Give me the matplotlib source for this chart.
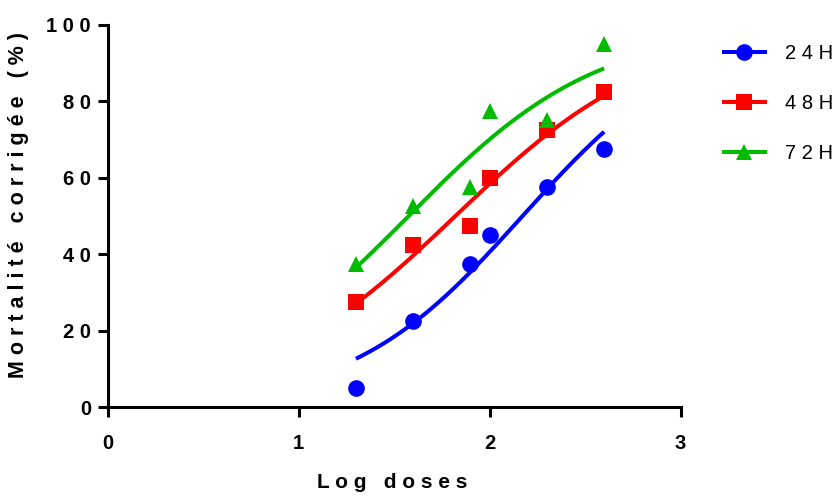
import numpy as np
import matplotlib
matplotlib.use('Agg')
import matplotlib.pyplot as plt

# Log doses and corrected mortality (%) for each exposure time
log_doses = [1.3, 1.6, 1.9, 2.0, 2.3, 2.6]
mort_24h = [5.0, 22.5, 37.5, 45.0, 57.5, 67.5]
mort_48h = [27.5, 42.5, 47.5, 60.0, 72.5, 82.5]
mort_72h = [37.5, 52.5, 57.5, 77.5, 75.0, 95.0]

series_labels = ['24H', '48H', '72H']
colors = ['#0000FF', '#FF0000', '#00BB00']
markers = ['o', 's', '^']
marker_sizes = [12, 11, 12]

x_ticks = [0, 1, 2, 3]
y_ticks = [0, 20, 40, 60, 80, 100]

FONT = ['Liberation Sans', 'DejaVu Sans']
plt.rcParams['font.family'] = FONT


def spaced(s):
    # wide letter spacing for labels
    return ' '.join(s)


def fit_logistic(x, y):
    # dose-response curve, bottom 0 / top 100, variable slope
    x = np.asarray(x, float)
    y = np.asarray(y, float)
    p = np.clip(y / 100, 0.01, 0.99)
    slope, icpt = np.polyfit(x, np.log10(p / (1 - p)), 1)
    h, c = slope, -icpt / slope
    for _ in range(100):
        e = 10 ** ((c - x) * h)
        f = 100 / (1 + e)
        df_de = -100 / (1 + e) ** 2
        J = np.column_stack([df_de * e * np.log(10) * h,
                             df_de * e * np.log(10) * (c - x)])
        step = np.linalg.lstsq(J, y - f, rcond=None)[0]
        c += step[0]
        h += step[1]
    return c, h


fig = plt.figure(figsize=(8.35, 4.96), dpi=100)
ax = fig.add_axes([0.129, 0.179, 0.686, 0.771])

xs = np.linspace(min(log_doses), max(log_doses), 200)
handles = []
for ys, lab, col, mk, ms in zip([mort_24h, mort_48h, mort_72h], series_labels,
                                colors, markers, marker_sizes):
    c, h = fit_logistic(log_doses, ys)
    ax.plot(xs, 100 / (1 + 10 ** ((c - xs) * h)), color=col, lw=2.9,
            solid_capstyle='butt', zorder=2)
    ax.plot(log_doses, ys, ls='none', marker=mk, ms=ms, color=col,
            markeredgewidth=0, zorder=3)
    hd, = ax.plot([], [], color=col, lw=2.9, marker=mk, ms=ms,
                  markeredgewidth=0, label=spaced(lab))
    handles.append(hd)

ax.set_xlim(0, 3)
ax.set_ylim(0, 100)
ax.set_xticks(x_ticks)
ax.set_xticklabels([spaced(str(t)) for t in x_ticks])
ax.set_yticks(y_ticks)
ax.set_yticklabels([spaced(str(t)) for t in y_ticks])

for side in ['top', 'right']:
    ax.spines[side].set_visible(False)
for side in ['left', 'bottom']:
    ax.spines[side].set_linewidth(2.2)
ax.tick_params(axis='both', direction='out', length=7, width=2.2,
               labelsize=14.5)
ax.tick_params(axis='x', pad=12)
ax.tick_params(axis='y', pad=5)
for lbl in ax.get_xticklabels() + ax.get_yticklabels():
    lbl.set_fontweight('bold')

ax.set_xlabel('L o g   d o s e s', fontsize=15, fontweight='bold')
ax.xaxis.set_label_coords(0.497, -0.172)
ax.set_ylabel(spaced('Mortalité') + '   ' + spaced('corrigée') + '   ' + spaced('(%)'),
              fontsize=15.5, fontweight='bold')
ax.yaxis.set_label_coords(-0.137, 0.53)

fig.legend(handles=handles, loc='upper left', bbox_to_anchor=(0.857, 0.928),
           frameon=False, fontsize=14.5, handlelength=2.05, handletextpad=1.0,
           labelspacing=1.55, borderaxespad=0)

fig.savefig('out.png', dpi=100)
